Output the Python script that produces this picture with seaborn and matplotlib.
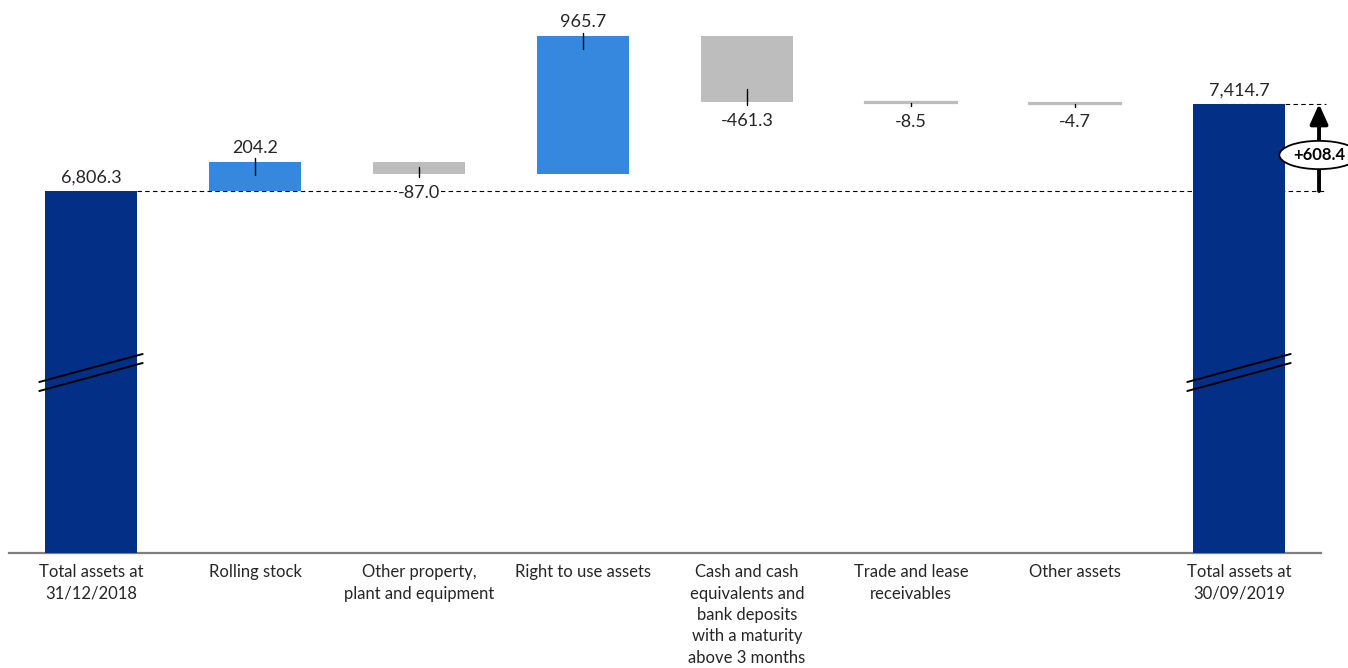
import matplotlib
matplotlib.use("Agg")
import matplotlib.pyplot as plt
import seaborn as sns
import numpy as np
import pandas as pd

categories = [
    "Total assets at\n31/12/2018",
    "Rolling stock",
    "Other property,\nplant and equipment",
    "Right to use assets",
    "Cash and cash\nequivalents and\nbank deposits\nwith a maturity\nabove 3 months",
    "Trade and lease\nreceivables",
    "Other assets",
    "Total assets at\n30/09/2019",
]
changes = [6806.3, 204.2, -87.0, 965.7, -461.3, -8.5, -4.7, 7414.7]
value_labels = ["6,806.3", "204.2", "-87.0", "965.7", "-461.3", "-8.5", "-4.7", "7,414.7"]
kinds = ["total", "up", "down", "up", "down", "down", "down", "total"]
delta_label = "+608.4"

palette = {"total": "#032F87", "up": "#3588DE", "down": "#BDBDBD"}

# waterfall geometry: bottoms and heights of each floating bar
bottoms, heights = [], []
running = 0.0
for v, k in zip(changes, kinds):
    if k == "total":
        bottoms.append(0.0)
        heights.append(v)
        running = v
    else:
        lo = min(running, running + v)
        bottoms.append(lo)
        heights.append(abs(v))
        running += v
tops = [b + h for b, h in zip(bottoms, heights)]

df = pd.DataFrame({"category": categories, "height": heights, "kind": kinds})

sns.set_theme(style="white")
plt.rcParams["font.family"] = ["Lato", "DejaVu Sans"]

fig = plt.figure(figsize=(13.48, 6.68), dpi=100)
ax = fig.add_axes([9 / 1348, 1 - 553 / 668, 1312 / 1348, 553 / 668])

sns.barplot(data=df, x="category", y="height", hue="category",
            palette=[palette[k] for k in kinds], legend=False,
            width=0.56, saturation=1, ax=ax, zorder=3)

ymin, ymax = 4274.8, 8142.0
upp = (ymax - ymin) / 553.0  # data units per pixel

# lift each patch onto its waterfall base; very thin bars keep a visible stroke
for p, b, h, k in zip(ax.patches, bottoms, heights, kinds):
    p.set_y(b)
    p.set_height(h)
    if h < 3 * upp:
        p.set_edgecolor(palette[k])
        p.set_linewidth(1.6)
    else:
        p.set_edgecolor("none")

ax.set_xlim(-0.5, 7.5)
ax.set_ylim(ymin, ymax)

for s in ["left", "right", "top"]:
    ax.spines[s].set_visible(False)
ax.spines["bottom"].set_color("#7F7F7F")
ax.spines["bottom"].set_linewidth(1.6)
ax.set_yticks([])
ax.set_xlabel("")
ax.set_ylabel("")
ax.tick_params(axis="x", length=0, pad=8)
ax.set_xticks(range(len(categories)))
ax.set_xticklabels(categories, fontsize=12, color="#262626", linespacing=1.42,
                   va="top")

start, end = changes[0], changes[-1]

# reference dashed lines at starting and ending totals
ax.plot([0.28, 7.53], [start, start], ls=(0, (4, 3)), color="black", lw=0.8,
        zorder=2, clip_on=False)
ax.plot([6.9, 7.53], [end, end], ls=(0, (4, 3)), color="black", lw=0.8,
        zorder=2, clip_on=False)

# value labels with small tick marks at the bar ends
vfs = 13
for i, (v, k, lab) in enumerate(zip(changes, kinds, value_labels)):
    if k == "total":
        ax.annotate(lab, (i, tops[i]), xytext=(0, 4), textcoords="offset points",
                    ha="center", va="bottom", fontsize=vfs, color="#262626", zorder=5)
        continue
    inside = min(13 * upp, 0.6 * heights[i])
    if v >= 0:
        edge = tops[i]
        ax.plot([i, i], [edge + 3.5 * upp, edge - inside], color="black", lw=1.0, zorder=4)
        ax.annotate(lab, (i, edge), xytext=(0, 4.5), textcoords="offset points",
                    ha="center", va="bottom", fontsize=vfs, color="#262626", zorder=5)
    else:
        edge = bottoms[i]
        ax.plot([i, i], [edge - 3 * upp, edge + inside], color="black", lw=1.0, zorder=4)
        ax.annotate(lab, (i, edge), xytext=(0, -7.5), textcoords="offset points",
                    ha="center", va="top", fontsize=vfs, color="#262626", zorder=5,
                    bbox=dict(boxstyle="square,pad=0.05", fc="white", ec="none"))

# axis-break marks across the two total bars (two parallel diagonals)
def px_to_val(py):
    return ymin + (553 - py) * upp

for i in [0, 7]:
    for y_left, y_right in [(382, 354), (391, 363)]:
        ax.plot([i - 0.315, i + 0.315], [px_to_val(y_left), px_to_val(y_right)],
                color="black", lw=1.4, zorder=4, clip_on=False)

# net change arrow with oval label
xa = 7.488
ax.annotate("", xy=(xa, end), xytext=(xa, start),
            arrowprops=dict(arrowstyle="-|>,head_length=1.0,head_width=0.45",
                            color="black", lw=2.8, shrinkA=0, shrinkB=0),
            zorder=5, annotation_clip=False)
ax.text(xa, px_to_val(155), delta_label, ha="center", va="center",
        fontsize=12, fontweight="bold", color="black", zorder=6, clip_on=False,
        bbox=dict(boxstyle="ellipse,pad=0.12", fc="white", ec="black", lw=1.3))

fig.savefig("out.png", dpi=100)
